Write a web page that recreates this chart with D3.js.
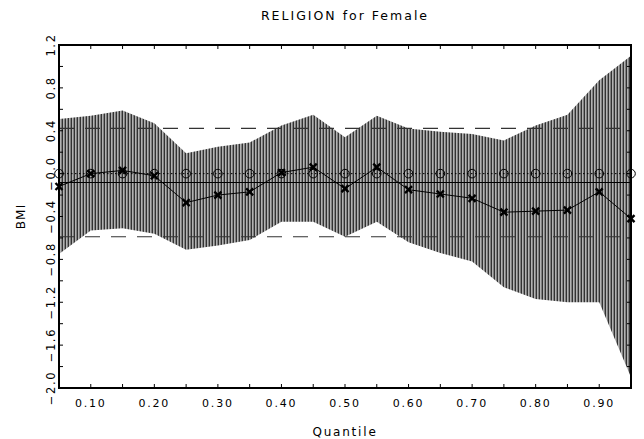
<!DOCTYPE html>
<html>
<head>
<meta charset="utf-8">
<script src="https://cdn.jsdelivr.net/npm/d3@7"></script>
<style>
  html, body { margin: 0; padding: 0; background: #fff; }
  svg { display: block; }
  text { font-family: "DejaVu Sans", "Liberation Sans", sans-serif; fill: #000; }
</style>
</head>
<body>
<svg id="chart" width="644" height="439"></svg>
<script>
// Quantile regression of BMI on RELIGION (females)
const quantiles = [0.05, 0.10, 0.15, 0.20, 0.25, 0.30, 0.35, 0.40, 0.45, 0.50,
                   0.55, 0.60, 0.65, 0.70, 0.75, 0.80, 0.85, 0.90, 0.95];
const estimates = [-0.12, 0.00, 0.03, -0.02, -0.27, -0.20, -0.17, 0.01, 0.06, -0.14,
                   0.06, -0.15, -0.19, -0.23, -0.36, -0.35, -0.34, -0.17, -0.42];
const upperCI   = [0.51, 0.54, 0.59, 0.47, 0.19, 0.25, 0.29, 0.45, 0.55, 0.34,
                   0.54, 0.42, 0.39, 0.37, 0.31, 0.45, 0.55, 0.87, 1.10];
const lowerCI   = [-0.75, -0.53, -0.51, -0.56, -0.71, -0.67, -0.62, -0.45, -0.45, -0.59,
                   -0.45, -0.64, -0.74, -0.82, -1.06, -1.17, -1.20, -1.20, -1.90];

// OLS estimate with its confidence bounds, and the zero reference
const olsEstimate = -0.083;
const olsUpper = 0.423;
const olsLower = -0.589;
const nullValue = 0.0;

// Axis ticks and labels
const xTickValues = [0.05, 0.10, 0.15, 0.20, 0.25, 0.30, 0.35, 0.40, 0.45, 0.50,
                     0.55, 0.60, 0.65, 0.70, 0.75, 0.80, 0.85, 0.90, 0.95];
const xLabelValues = [0.10, 0.20, 0.30, 0.40, 0.50, 0.60, 0.70, 0.80, 0.90];
const xLabels = ["0.10", "0.20", "0.30", "0.40", "0.50", "0.60", "0.70", "0.80", "0.90"];
const yTickValues = [-2.0, -1.8, -1.6, -1.4, -1.2, -1.0, -0.8, -0.6, -0.4, -0.2,
                     0.0, 0.2, 0.4, 0.6, 0.8, 1.0, 1.2];
const yLabelValues = [-2.0, -1.6, -1.2, -0.8, -0.4, 0.0, 0.4, 0.8, 1.2];
const yLabels = ["\u22122.0", "\u22121.6", "\u22121.2", "\u22120.8", "\u22120.4", "\u22120.0", "0.4", "0.8", "1.2"];

const titleText = "RELIGION for Female";
const xTitle = "Quantile";
const yTitle = "BMI";

const svg = d3.select("#chart");
const plotL = 59, plotR = 631, plotT = 45, plotB = 388;

const x = d3.scaleLinear().domain([0.05, 0.95]).range([plotL, plotR]);
const y = d3.scaleLinear().domain([-2.0, 1.2]).range([plotB, plotT]);

const pts = quantiles.map((q, i) => ({ q, est: estimates[i], lo: lowerCI[i], hi: upperCI[i] }));

// Vertical hatching pattern for the confidence band
const defs = svg.append("defs");
const pat = defs.append("pattern")
  .attr("id", "hatch")
  .attr("patternUnits", "userSpaceOnUse")
  .attr("x", plotL - 0.5)
  .attr("width", 3)
  .attr("height", 10);
pat.append("rect").attr("x", 0).attr("y", 0).attr("width", 1.6).attr("height", 10).attr("fill", "#000");

const area = d3.area()
  .x(d => x(d.q))
  .y0(d => y(d.lo))
  .y1(d => y(d.hi));

svg.append("path")
  .datum(pts)
  .attr("d", area)
  .attr("fill", "url(#hatch)");

// OLS bounds (dashed) and estimate (solid)
svg.selectAll("line.olsci")
  .data([olsUpper, olsLower])
  .join("line")
  .attr("class", "olsci")
  .attr("x1", plotL).attr("x2", plotR)
  .attr("y1", d => y(d)).attr("y2", d => y(d))
  .attr("stroke", "#333")
  .attr("stroke-width", 1.2)
  .attr("stroke-dasharray", "15,11");

svg.append("line")
  .attr("x1", plotL).attr("x2", plotR)
  .attr("y1", y(olsEstimate)).attr("y2", y(olsEstimate))
  .attr("stroke", "#000")
  .attr("stroke-width", 1.2);

// Zero reference: dotted line with open circles
svg.append("line")
  .attr("x1", plotL).attr("x2", plotR)
  .attr("y1", y(nullValue)).attr("y2", y(nullValue))
  .attr("stroke", "#000")
  .attr("stroke-width", 1)
  .attr("stroke-dasharray", "1.5,2.5");

svg.selectAll("circle.nullpt")
  .data(quantiles)
  .join("circle")
  .attr("class", "nullpt")
  .attr("cx", d => x(d))
  .attr("cy", y(nullValue))
  .attr("r", 4.3)
  .attr("fill", "none")
  .attr("stroke", "#000")
  .attr("stroke-width", 1);

// Quantile estimates
svg.append("path")
  .datum(pts)
  .attr("d", d3.line().x(d => x(d.q)).y(d => y(d.est)))
  .attr("fill", "none")
  .attr("stroke", "#000")
  .attr("stroke-width", 1);

const m = 3.5;
const marks = svg.selectAll("g.est")
  .data(pts)
  .join("g")
  .attr("class", "est")
  .attr("transform", d => `translate(${x(d.q)},${y(d.est)})`);
marks.append("path")
  .attr("d", `M${-m},${-m}L${m},${m}M${-m},${m}L${m},${-m}`)
  .attr("stroke", "#000")
  .attr("stroke-width", 2.4)
  .attr("fill", "none");

// Ticks on all four sides, pointing inward
const tickLen = 4;
const tg = svg.append("g").attr("stroke", "#000").attr("stroke-width", 1);
xTickValues.forEach(v => {
  tg.append("line").attr("x1", x(v)).attr("x2", x(v)).attr("y1", plotB).attr("y2", plotB - tickLen);
  tg.append("line").attr("x1", x(v)).attr("x2", x(v)).attr("y1", plotT).attr("y2", plotT + tickLen);
});
yTickValues.forEach(v => {
  tg.append("line").attr("x1", plotL).attr("x2", plotL + tickLen).attr("y1", y(v)).attr("y2", y(v));
  tg.append("line").attr("x1", plotR).attr("x2", plotR - tickLen).attr("y1", y(v)).attr("y2", y(v));
});

// Frame
svg.append("rect")
  .attr("x", plotL).attr("y", plotT)
  .attr("width", plotR - plotL).attr("height", plotB - plotT)
  .attr("fill", "none")
  .attr("stroke", "#000")
  .attr("stroke-width", 2);

// Tick labels
svg.selectAll("text.xl")
  .data(xLabelValues)
  .join("text")
  .attr("class", "xl")
  .attr("x", d => x(d))
  .attr("y", 407)
  .attr("text-anchor", "middle")
  .style("font-size", "11px")
  .style("letter-spacing", "1.8px")
  .text((d, i) => xLabels[i]);

svg.selectAll("text.yl")
  .data(yLabelValues)
  .join("text")
  .attr("class", "yl")
  .attr("transform", d => `translate(55,${y(d)}) rotate(-90)`)
  .attr("text-anchor", "middle")
  .style("font-size", "11.5px")
  .style("letter-spacing", "1.6px")
  .text((d, i) => yLabels[i]);

// Titles
svg.append("text")
  .attr("x", (plotL + plotR) / 2)
  .attr("y", 20)
  .attr("text-anchor", "middle")
  .style("font-size", "12.5px")
  .style("letter-spacing", "2px")
  .text(titleText);

svg.append("text")
  .attr("x", (plotL + plotR) / 2)
  .attr("y", 436)
  .attr("text-anchor", "middle")
  .style("font-size", "12px")
  .style("letter-spacing", "1.8px")
  .text(xTitle);

svg.append("text")
  .attr("transform", `translate(25,${(plotT + plotB) / 2}) rotate(-90)`)
  .attr("text-anchor", "middle")
  .style("font-size", "12px")
  .style("letter-spacing", "1.2px")
  .text(yTitle);
</script>
</body>
</html>
